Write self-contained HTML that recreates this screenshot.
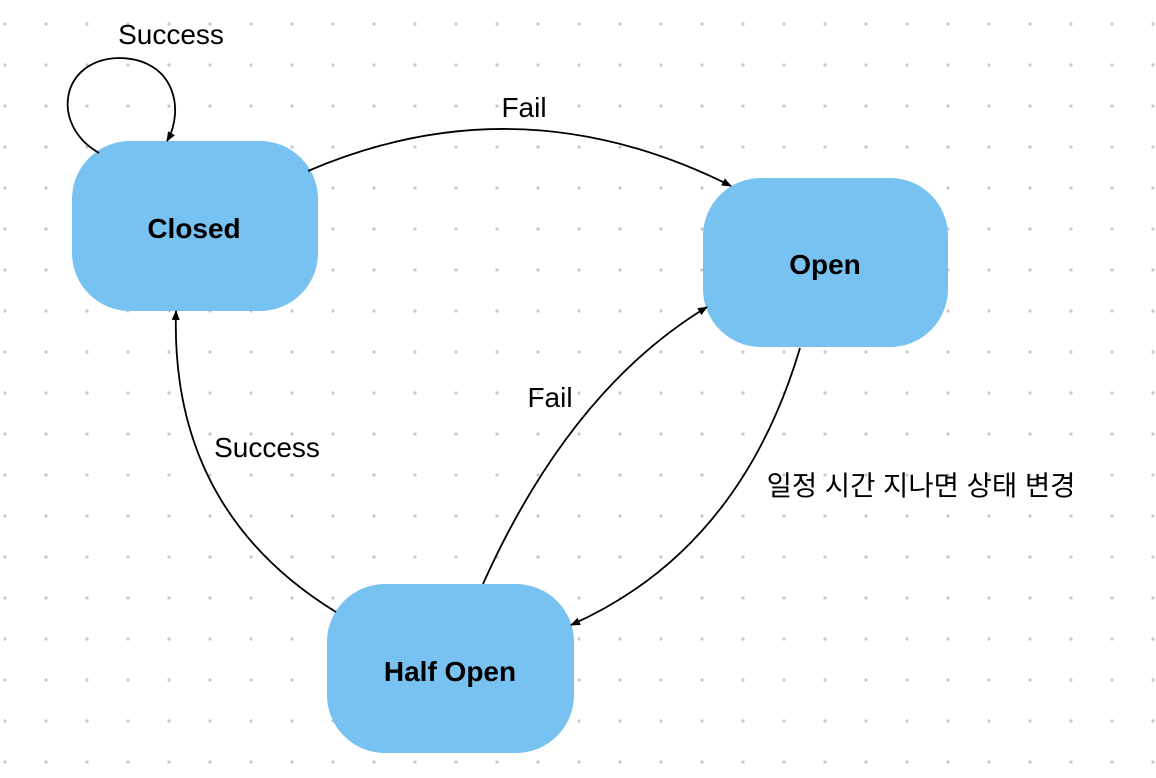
<!DOCTYPE html>
<html><head><meta charset="utf-8"><style>
body{margin:0;background:#fff}
svg{display:block}
text{font-family:"Liberation Sans","Noto Sans CJK KR",sans-serif}
</style></head><body>
<svg width="1156" height="778" viewBox="0 0 1156 778" xmlns="http://www.w3.org/2000/svg">
<defs>
<pattern id="d" x="5" y="24" width="41" height="41" patternUnits="userSpaceOnUse">
<circle cx="0" cy="0" r="1.6" fill="#c8c8c8"/><circle cx="41" cy="0" r="1.6" fill="#c8c8c8"/><circle cx="0" cy="41" r="1.6" fill="#c8c8c8"/><circle cx="41" cy="41" r="1.6" fill="#c8c8c8"/>
</pattern>
<marker id="a" markerWidth="10" markerHeight="10" refX="9" refY="5" orient="auto" markerUnits="userSpaceOnUse">
<path d="M0,1 L10,5 L0,9 Z" fill="#000"/></marker>
</defs>
<rect width="1156" height="778" fill="url(#d)"/>
<g fill="#77c2f0">
<rect x="72" y="141" width="246" height="170" rx="58"/>
<rect x="703" y="178" width="245" height="169" rx="58"/>
<rect x="327" y="584" width="247" height="169" rx="58"/>
</g>
<g fill="none" stroke="#000" stroke-width="1.8">
<path d="M99,153 C50,125 60,60 118,58 C175,58 185,110 167,141" marker-end="url(#a)"/>
<path d="M308,171 Q520,80 731,186" marker-end="url(#a)"/>
<path d="M800,348 Q740,550 571,625" marker-end="url(#a)"/>
<path d="M483,584 Q570,390 707,307" marker-end="url(#a)"/>
<path d="M336,612 Q170,510 176,311" marker-end="url(#a)"/>
</g>
<g font-size="28" font-weight="bold" text-anchor="middle">
<text x="194" y="238">Closed</text>
<text x="825" y="274">Open</text>
<text x="450" y="681">Half Open</text>
</g>
<g font-size="28" text-anchor="middle">
<text x="171" y="44">Success</text>
<text x="524" y="117">Fail</text>
<text x="550" y="407">Fail</text>
<text x="267" y="457">Success</text>
<text x="921" y="495" font-size="27.5">일정 시간 지나면 상태 변경</text>
</g>
</svg>
</body></html>
